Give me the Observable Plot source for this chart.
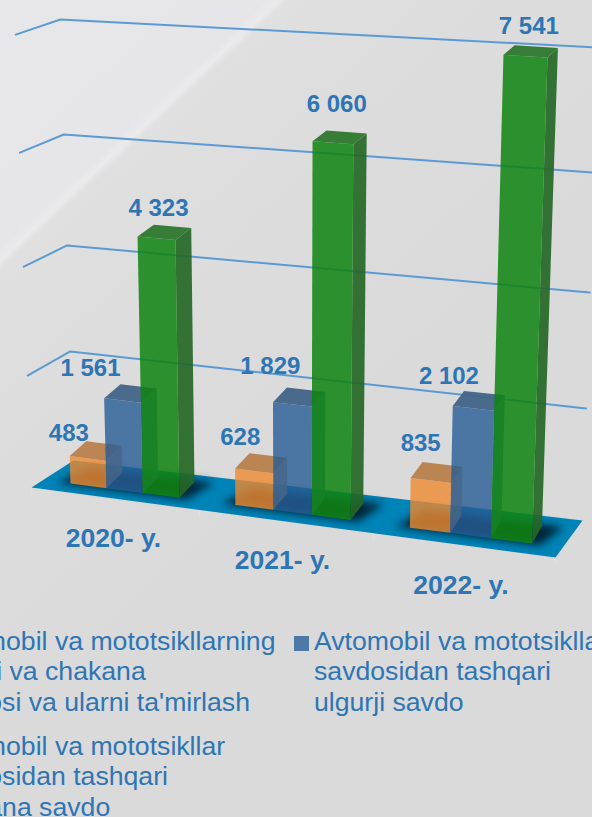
<!DOCTYPE html>
<html>
<head>
<meta charset="utf-8">
<script src="https://cdn.jsdelivr.net/npm/d3@7"></script>
<script src="https://cdn.jsdelivr.net/npm/@observablehq/plot@0.6"></script>
<style>
html,body{margin:0;padding:0;width:592px;height:817px;overflow:hidden;}
body{position:relative;font-family:"Liberation Sans",Arial,sans-serif;color:#2e75b6;
background:linear-gradient(137deg,#e7e7e9 0,#e6e6e8 182px,#ebebed 190px,#e0e0e0 197px,#dddddd 300px,#dadada 560px,#dadada 999px);}
.lg{position:absolute;font-size:26.65px;line-height:30.6px;white-space:nowrap;}
.sw{position:absolute;width:15px;height:15px;}
</style>
</head>
<body>
<div id="chart"></div>
<script>
const years = ["2020- y.", "2021- y.", "2022- y."];
const seriesNames = [
  "Avtomobil va mototsikllarning ulgurji va chakana savdosi va ularni ta'mirlash",
  "Avtomobil va mototsikllar savdosidan tashqari ulgurji savdo",
  "Avtomobil va mototsikllar savdosidan tashqari chakana savdo"
];
const repairSales = [483, 628, 835];
const wholesale = [1561, 1829, 2102];
const retail = [4323, 6060, 7541];
const gridLevels = [2000, 4000, 6000, 8000];

const W = 592, H = 612;
const seriesValues = [repairSales, wholesale, retail];
const faceColors = [
  {front: "#ed8a30", side: "#c98a55", top: "#b87f4c", alpha: 0.8, sideAlpha: 0.8},
  {front: "#275c95", side: "#3c6a9a", top: "#426487", alpha: 0.8, sideAlpha: 0.8},
  {front: "#108412", side: "#256726", top: "#2d772e", alpha: 0.86, sideAlpha: 0.92}
];
const labelNudge = [
  [[-27,-18],[-21,-26],[-16,-29]],
  [[-40,-25],[-29,-31],[-30,-24]],
  [[-6,-24],[-3,-33],[-2,-25]]
];
const yearNudge = [[-11,48],[-10,48],[-9.5,50]];
const groupStart = [0, 4.5, 9];

// perspective of the bars: slot along the axis, value in thousands, depth
function project(t, v, d) {
  const u = v / 1000;
  const w = 1 - 0.00614 * t - 0.009 * u + 0.0161 * d;
  return [
    (70 + 35.2 * t + (-2.27 - 0.063 * t) * u + 17.9 * d) / w,
    (483 + 1.667 * t + (-60.8 + 0.05 * t) * u - 7.6 * d) / w
  ];
}
// perspective of the floor and its walls
const wallHeightLeft = d3.scaleLinear([0, 2000, 4000, 6000, 8000], [0, 109, 215, 326, 441]);
const wallHeightRight = d3.scaleLinear([0, 2000, 4000, 6000, 8000], [0, 112, 228, 348, 473]);
function wall(s, r, v) {
  const w = 1 - 0.2049 * s + 0.0403 * r;
  const x0 = (31 + 410.3 * s + 44.9 * r) / w, y0 = (487 - 44.1 * s - 8.5 * r) / w;
  const h = (1 - s) * wallHeightLeft(v) * (1.027 - 0.027 * r) + s * wallHeightRight(v);
  return [x0 + (x0 - 320) * 0.00012 * h, y0 - h];
}
const pts = (id, list) => list.map(p => ({id, x: p[0], y: p[1]}));
const poly = (rows, fill, extra = {}) => Plot.line(rows, {x: "x", y: "y", z: "id", fill, stroke: "none", curve: "linear", ...extra});

const gridRows = gridLevels.flatMap(v => pts(v, [wall(0, 0, v), wall(0, 1, v), wall(1, 1, v)]));
const floorRows = pts("floor", [wall(0, 0, 0), wall(1, 0, 0), wall(1, 1, 0), wall(0, 1, 0)]);
const shadowRows = groupStart.flatMap((g, i) => pts(i, [
  project(g - 0.35, 0, -0.05), project(g + 3.2, 0, -0.05), project(g + 3.5, 0, 1.1), project(g + 0.05, 0, 1.1)
]));
const tickSlots = [-0.86, 3.75, 8.25, 12.68];
const tickRows = tickSlots.flatMap(t => pts(t, [project(t, 0, -0.5), project(t, -120, -0.5)]));

const faceMarks = seriesValues.flatMap((vals, s) => {
  const c = faceColors[s];
  const front = [], side = [], top = [];
  vals.forEach((v, i) => {
    const t = groupStart[i] + s;
    side.push(...pts(i, [project(t + 1, 0, 0), project(t + 1, 0, 1), project(t + 1, v, 1), project(t + 1, v, 0)]));
    front.push(...pts(i, [project(t, 0, 0), project(t + 1, 0, 0), project(t + 1, v, 0), project(t, v, 0)]));
    top.push(...pts(i, [project(t, v, 0), project(t + 1, v, 0), project(t + 1, v, 1), project(t, v, 1)]));
  });
  return [
    poly(side, c.side, {fillOpacity: c.sideAlpha}),
    poly(front, c.front, {fillOpacity: c.alpha}),
    poly(top, c.top, {fillOpacity: 0.95})
  ];
});

const valueLabels = seriesValues.flatMap((vals, s) => vals.map((v, i) => {
  const p = project(groupStart[i] + s + 0.5, v, 0.5), n = labelNudge[s][i];
  return {x: p[0] + n[0], y: p[1] + n[1], text: d3.format(",")(v).replace(",", " ")};
}));
const yearLabels = years.map((text, i) => {
  const p = project(groupStart[i] + 1.5, 0, 0);
  return {x: p[0] + yearNudge[i][0], y: p[1] + yearNudge[i][1], text};
});

const chart = Plot.plot({
  width: W, height: H, margin: 0,
  style: {background: "transparent", fontFamily: "'Liberation Sans',Arial,sans-serif"},
  x: {domain: [0, W], range: [0, W], axis: null},
  y: {domain: [0, H], range: [0, H], axis: null},
  marks: [
    Plot.line(tickRows, {x: "x", y: "y", z: "id", stroke: "#e2e2e2", strokeWidth: 1, curve: "linear"}),
    Plot.line(gridRows, {x: "x", y: "y", z: "id", stroke: "#5b9bd5", strokeWidth: 2, curve: "linear"}),
    poly(floorRows, "#0084b8"),
    poly(shadowRows, "#00202f", {imageFilter: "blur(4px)", fillOpacity: 0.95}),
    ...faceMarks,
    Plot.text(valueLabels, {x: "x", y: "y", text: "text", fill: "#2e75b6", fontSize: 24, fontWeight: "bold"}),
    Plot.text(yearLabels, {x: "x", y: "y", text: "text", fill: "#2e75b6", fontSize: 26.5, fontWeight: "bold"})
  ]
});
document.getElementById("chart").appendChild(chart);

// legend, placed below the chart; the left column runs off the page as in the source
const legendLines = [
  {text: "Avtomobil va mototsikllarning<br>ulgurji va chakana<br>savdosi va ularni ta'mirlash", left: -69, top: 625.7, color: "#ed9a50"},
  {text: "Avtomobil va mototsikllar<br>savdosidan tashqari<br>chakana savdo", left: -69, top: 730.7, color: "#2e9130"},
  {text: "Avtomobil va mototsikllar<br>savdosidan tashqari<br>ulgurji savdo", left: 314, top: 625.7, color: "#4e78a6"}
];
legendLines.forEach(l => {
  const d = document.createElement("div");
  d.className = "lg";
  d.style.left = l.left + "px";
  d.style.top = l.top + "px";
  d.innerHTML = l.text;
  document.body.appendChild(d);
  const s = document.createElement("div");
  s.className = "sw";
  s.style.left = (l.left - 20) + "px";
  s.style.top = (l.top + 10.5) + "px";
  s.style.background = l.color;
  document.body.appendChild(s);
});
</script>
</body>
</html>
